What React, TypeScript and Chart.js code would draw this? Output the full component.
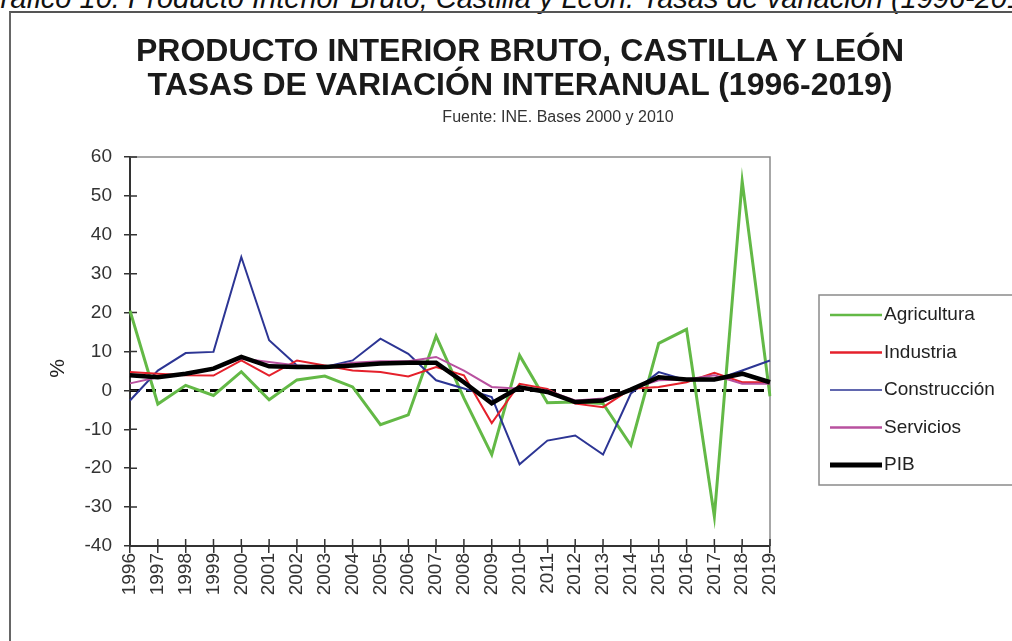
import React, { useEffect, useRef } from "react";
import { Chart, registerables } from "chart.js";

Chart.register(...registerables);

const years = [
  "1996", "1997", "1998", "1999", "2000", "2001", "2002", "2003", "2004", "2005", "2006", "2007",
  "2008", "2009", "2010", "2011", "2012", "2013", "2014", "2015", "2016", "2017", "2018", "2019",
];
const agricultura = [20.5, -3.5, 1.3, -1.3, 4.8, -2.4, 2.7, 3.7, 0.9, -8.8, -6.3, 14.0, -2.0, -16.5, 9.0, -3.2, -3.0, -3.4, -14.1, 12.1, 15.7, -32.4, 53.8, -1.5];
const industria = [4.7, 4.3, 3.9, 3.8, 7.7, 3.8, 7.7, 6.4, 5.1, 4.7, 3.6, 6.0, 3.9, -8.4, 1.7, 0.4, -3.4, -4.3, 0.4, 0.9, 2.1, 4.5, 2.1, 2.1];
const construccion = [-2.6, 5.1, 9.6, 9.9, 34.3, 12.9, 6.4, 6.0, 7.7, 13.3, 9.4, 2.6, 0.5, -1.7, -19.0, -12.9, -11.6, -16.5, -0.8, 4.7, 2.6, 2.6, 5.1, 7.7];
const servicios = [1.8, 3.4, 4.3, 5.6, 8.2, 7.3, 6.4, 6.0, 7.1, 7.5, 7.5, 8.6, 5.1, 0.9, 0.4, 0.0, -2.6, -2.1, 0.4, 2.6, 2.8, 3.9, 1.7, 1.7];
const pib = [3.9, 3.4, 4.3, 5.6, 8.6, 6.2, 6.0, 6.0, 6.4, 6.9, 7.1, 7.1, 2.1, -3.3, 0.8, -0.4, -3.0, -2.6, 0.2, 3.4, 2.8, 2.8, 4.3, 2.1];

const seriesNames = ["Agricultura", "Industria", "Construcción", "Servicios", "PIB"];
const seriesValues = [agricultura, industria, construccion, servicios, pib];
const seriesColors = ["#63b946", "#e5202b", "#2c3594", "#b8519f", "#000000"];
const seriesWidths = [3, 2, 2, 2, 4.5];
const legendWidths = [2.5, 2.5, 1.5, 2.5, 5];
const seriesOrder = [4, 2, 3, 1, 0];

const yMin = -40;
const yMax = 60;
const yStep = 10;

const FONT = "'Liberation Sans', Arial, Helvetica, sans-serif";

const plotDecor = {
  id: "plotDecor",
  beforeDatasetsDraw(chart: any) {
    const { ctx, chartArea: a } = chart;
    const xs = chart.scales.x;
    const ys = chart.scales.y;
    ctx.save();
    ctx.strokeStyle = "#8a8a8a";
    ctx.lineWidth = 1.5;
    ctx.beginPath();
    ctx.moveTo(a.left, a.top);
    ctx.lineTo(a.right, a.top);
    ctx.lineTo(a.right, a.bottom);
    ctx.stroke();

    const y0 = ys.getPixelForValue(0);
    ctx.setLineDash([10, 6]);
    ctx.strokeStyle = "#000";
    ctx.lineWidth = 3;
    ctx.beginPath();
    ctx.moveTo(a.left, y0);
    ctx.lineTo(a.right, y0);
    ctx.stroke();
    ctx.setLineDash([]);

    ctx.strokeStyle = "#333";
    ctx.lineWidth = 1.5;
    ctx.beginPath();
    ys.ticks.forEach((t: any) => {
      const py = ys.getPixelForValue(t.value);
      ctx.moveTo(a.left, py);
      ctx.lineTo(a.left + 7, py);
    });
    xs.ticks.forEach((_t: any, i: number) => {
      const px = xs.getPixelForTick(i);
      ctx.moveTo(px, a.bottom);
      ctx.lineTo(px, a.bottom - 7);
    });
    ctx.stroke();

    ctx.fillStyle = "#222";
    ctx.font = `21px ${FONT}`;
    ctx.textAlign = "center";
    ctx.textBaseline = "middle";
    ctx.translate(58, (a.top + a.bottom) / 2 + 17);
    ctx.rotate(-Math.PI / 2);
    ctx.fillText("%", 0, 0);
    ctx.restore();
  },
};

const boxLegend = {
  id: "boxLegend",
  afterDraw(chart: any) {
    const { ctx, chartArea: a } = chart;
    const left = a.right + 49;
    const top = 295;
    const bottom = 485;
    ctx.save();
    ctx.strokeStyle = "#8a8a8a";
    ctx.lineWidth = 1.5;
    ctx.strokeRect(left, top, 260, bottom - top);
    ctx.font = `19px ${FONT}`;
    ctx.textAlign = "left";
    ctx.textBaseline = "middle";
    chart.data.datasets.forEach((d: any, i: number) => {
      const yy = top + 20 + i * 37.5;
      ctx.strokeStyle = d.borderColor;
      ctx.lineWidth = legendWidths[i];
      ctx.beginPath();
      ctx.moveTo(left + 11, yy);
      ctx.lineTo(left + 63, yy);
      ctx.stroke();
      ctx.fillStyle = "#222";
      ctx.fillText(d.label, left + 65, yy);
    });
    ctx.restore();
  },
};

export default function App() {
  const ref = useRef<HTMLCanvasElement | null>(null);

  useEffect(() => {
    if (!ref.current) return;
    const datasets = seriesNames.map((name, i) => ({
      label: name,
      data: seriesValues[i],
      borderColor: seriesColors[i],
      backgroundColor: seriesColors[i],
      borderWidth: seriesWidths[i],
      pointRadius: 0,
      tension: 0,
      fill: false,
      order: seriesOrder[i],
    }));
    const chart = new Chart(ref.current, {
      type: "line",
      data: { labels: years, datasets },
      options: {
        responsive: false,
        animation: false,
        layout: { padding: { left: 40, right: 242, top: 157, bottom: 0 } },
        plugins: {
          legend: { display: false },
          title: { display: false },
          tooltip: { enabled: false },
        },
        scales: {
          x: {
            type: "category",
            offset: false,
            grid: { display: true, drawOnChartArea: false, drawTicks: true, tickLength: 7, color: "#333", lineWidth: 1.5 },
            border: { display: true, color: "#333", width: 2 },
            ticks: {
              autoSkip: false,
              maxRotation: 90,
              minRotation: 90,
              padding: 0,
              color: "#333",
              font: { size: 19, family: FONT },
            },
            afterFit: (s: any) => {
              s.height = 95;
              s.paddingLeft = 0;
              s.paddingRight = 0;
            },
          },
          y: {
            min: yMin,
            max: yMax,
            grid: { display: true, drawOnChartArea: false, drawTicks: true, tickLength: 6, color: "#333", lineWidth: 1.5 },
            border: { display: true, color: "#333", width: 2 },
            ticks: {
              stepSize: yStep,
              padding: 12,
              color: "#333",
              font: { size: 19, family: FONT },
            },
            afterFit: (s: any) => {
              s.width = 90;
            },
          },
        },
      },
      plugins: [plotDecor, boxLegend],
    });
    return () => chart.destroy();
  }, []);

  return (
    <div
      style={{
        position: "absolute",
        left: 0,
        top: 0,
        width: 1012,
        height: 641,
        overflow: "hidden",
        background: "#fff",
        fontFamily: FONT,
      }}
    >
      <div
        style={{
          position: "absolute",
          left: -22,
          top: -16,
          fontSize: 29,
          lineHeight: "29px",
          fontStyle: "italic",
          whiteSpace: "nowrap",
          color: "#111",
        }}
      >
        Gráfico 10. Producto Interior Bruto, Castilla y León. Tasas de variación (1996-2019)
      </div>
      <div
        style={{
          position: "absolute",
          left: 9,
          top: 11,
          width: 1100,
          height: 700,
          borderTop: "2px solid #555",
          borderLeft: "2px solid #666",
        }}
      />
      <canvas ref={ref} width={1012} height={641} style={{ position: "absolute", left: 0, top: 0 }} />
      <div
        style={{
          position: "absolute",
          left: 0,
          width: 1040,
          top: 34,
          fontSize: 32,
          lineHeight: "32px",
          fontWeight: "bold",
          textAlign: "center",
          whiteSpace: "nowrap",
          color: "#1a1a1a",
        }}
      >
        PRODUCTO INTERIOR BRUTO, CASTILLA Y LEÓN
      </div>
      <div
        style={{
          position: "absolute",
          left: 0,
          width: 1040,
          top: 68,
          fontSize: 32,
          lineHeight: "32px",
          fontWeight: "bold",
          textAlign: "center",
          whiteSpace: "nowrap",
          color: "#1a1a1a",
        }}
      >
        TASAS DE VARIACIÓN INTERANUAL (1996-2019)
      </div>
      <div
        style={{
          position: "absolute",
          left: 0,
          width: 1116,
          top: 109,
          fontSize: 16,
          lineHeight: "16px",
          textAlign: "center",
          whiteSpace: "nowrap",
          color: "#333",
        }}
      >
        Fuente: INE. Bases 2000 y 2010
      </div>
    </div>
  );
}
